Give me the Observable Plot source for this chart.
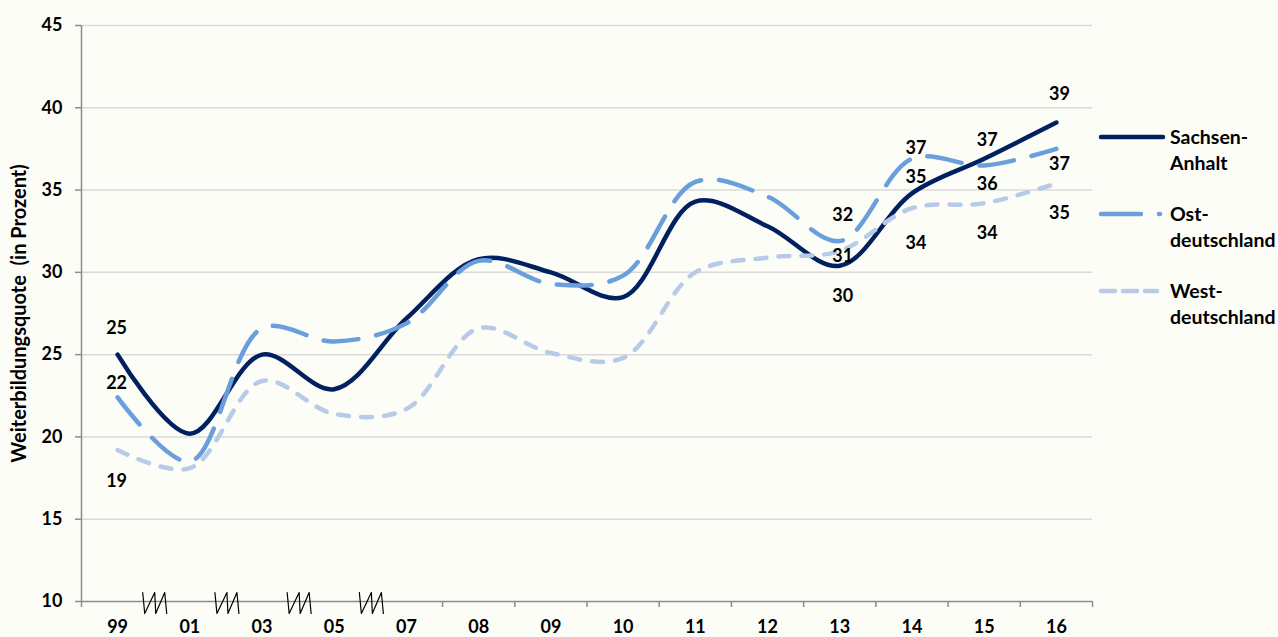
<!DOCTYPE html>
<html>
<head>
<meta charset="utf-8">
<script src="https://cdn.jsdelivr.net/npm/d3@7"></script>
<script src="https://cdn.jsdelivr.net/npm/@observablehq/plot@0.6"></script>
<style>
  html, body { margin: 0; padding: 0; background: #fdfdf8; }
  #wrap { position: relative; width: 1278px; height: 637px; overflow: hidden; background: #fdfdf8; }
  #wrap svg text { white-space: pre; }
  #legend { position: absolute; left: 0; top: 0; }
</style>
</head>
<body>
<div id="wrap"></div>
<script>
// ---- data ----
const years = ["99","01","03","05","07","08","09","10","11","12","13","14","15","16"];
const sachsenAnhalt   = [25.0, 20.2, 25.0, 22.9, 27.2, 30.8, 30.0, 28.5, 34.3, 32.8, 30.4, 34.8, 36.9, 39.1];
const ostdeutschland  = [22.4, 18.5, 26.6, 25.8, 26.9, 30.7, 29.3, 29.8, 35.5, 34.6, 31.9, 36.9, 36.5, 37.5];
const westdeutschland = [19.2, 18.1, 23.4, 21.4, 21.7, 26.6, 25.1, 24.8, 30.0, 30.9, 31.3, 33.9, 34.2, 35.4];
const labelYears = ["99","13","14","15","16"];
const saLabels   = [25, 30, 35, 37, 39];
const ostLabels  = [22, 32, 37, 36, 37];
const westLabels = [19, 31, 34, 34, 35];
const yTicks = [10, 15, 20, 25, 30, 35, 40, 45];
const breakYears = ["01","03","05","07"]; // axis break drawn before these years
const seriesNames = ["Sachsen-Anhalt", "Ost-deutschland", "West-deutschland"];
const yTitle = "Weiterbildungsquote  (in Prozent)";

// ---- layout / style ----
const W = 1278, H = 637, ML = 81, MR = 186, MT = 25, MB = 36;
const colors = ["#002060", "#6a9fdc", "#b7cbe8"];
const FONT = "Lato, 'Open Sans', sans-serif";
const pxPerX = (W - ML - MR) / years.length;
const pxPerY = (H - MT - MB) / 35;

const toRows = arr => arr.map((v, i) => ({i, v}));

// label offsets (pixels) for each series at each labelled year
const labelDy = [
  [-26, 30, -16, -19, -28],
  [-14, -26, -11, 19, 15],
  [31, 5, 35, 30, 30]
];
const labelDx = [-1, 3, 4, 3, 3];

// axis-break zigzag shape (pixel offsets)
const zig = [[-11,-9],[-9,12],[1,-9],[2,12],[11,-9],[13,12]];
const breakPts = [];
breakYears.forEach((yr, b) => {
  const bx = years.indexOf(yr) - 0.5;
  zig.forEach(([dx, dy]) => breakPts.push({b, x: bx + dx / pxPerX, y: 10 - dy / pxPerY}));
});

const labelMarks = [];
[saLabels, ostLabels, westLabels].forEach((labs, s) => {
  const vals = [sachsenAnhalt, ostdeutschland, westdeutschland][s];
  labs.forEach((lab, k) => {
    const i = years.indexOf(labelYears[k]);
    labelMarks.push(Plot.text([{i, v: vals[i], t: String(lab)}], {
      x: "i", y: "v", text: "t", dy: labelDy[s][k], dx: labelDx[k],
      fill: "#000", fontSize: 18, fontWeight: "bold"
    }));
  });
});

const boundaryTicks = d3.range(4.5, years.length, 1);

const chart = Plot.plot({
  width: W, height: H,
  marginLeft: ML, marginRight: MR, marginTop: MT, marginBottom: MB,
  x: {type: "linear", domain: [-0.5, years.length - 0.5], axis: null},
  y: {type: "linear", domain: [10, 45], axis: null},
  style: {background: "#fdfdf8", fontFamily: FONT, fontSize: "18px", fontWeight: "bold", color: "#000"},
  marks: [
    Plot.ruleY(yTicks.filter(t => t > 10), {stroke: "#d9d9d9", strokeWidth: 1.5}),
    Plot.axisY({ticks: yTicks, tickSize: 6, tickPadding: 13, stroke: "#8c8c8c", strokeWidth: 1.5, fill: "#000", fontSize: 18, fontWeight: "bold"}),
    Plot.ruleX([-0.5], {y1: 45, y2: 10, insetBottom: -6, stroke: "#8c8c8c", strokeWidth: 1.5}),
    Plot.ruleY([10], {stroke: "#8c8c8c", strokeWidth: 1.5}),
    Plot.axisX({ticks: boundaryTicks, tickSize: 6, tickFormat: () => "", stroke: "#8c8c8c", strokeWidth: 1.5}),
    Plot.axisX({ticks: d3.range(years.length), tickSize: 0, tickPadding: 19, tickFormat: i => years[i], fill: "#000", fontSize: 18, fontWeight: "bold"}),
    Plot.line(breakPts, {x: "x", y: "y", z: "b", stroke: "#000", strokeWidth: 1.2}),
    Plot.text([yTitle], {x: () => -0.5 - 62 / pxPerX, y: () => 27.5, rotate: -90, fill: "#000", fontSize: 20, fontWeight: "bold"}),
    Plot.line(toRows(sachsenAnhalt), {x: "i", y: "v", curve: "catmull-rom", stroke: colors[0], strokeWidth: 4.5, strokeLinecap: "round"}),
    Plot.line(toRows(ostdeutschland), {x: "i", y: "v", curve: "catmull-rom", stroke: colors[1], strokeWidth: 4.5, strokeLinecap: "round", strokeDasharray: "35,18"}),
    Plot.line(toRows(westdeutschland), {x: "i", y: "v", curve: "catmull-rom", stroke: colors[2], strokeWidth: 4.5, strokeLinecap: "round", strokeDasharray: "11,12"}),
    ...labelMarks
  ]
});

const wrap = document.getElementById("wrap");
wrap.appendChild(chart);

// ---- legend (right side) ----
const ns = "http://www.w3.org/2000/svg";
const leg = document.createElementNS(ns, "svg");
leg.setAttribute("id", "legend");
leg.setAttribute("width", W);
leg.setAttribute("height", H);
leg.style.pointerEvents = "none";
const legY = [137, 214, 291];
seriesNames.forEach((name, s) => {
  const ln = document.createElementNS(ns, "line");
  ln.setAttribute("x1", 1101); ln.setAttribute("x2", s === 1 ? 1160 : (s === 2 ? 1157 : 1163));
  ln.setAttribute("y1", legY[s]); ln.setAttribute("y2", legY[s]);
  ln.setAttribute("stroke", colors[s]); ln.setAttribute("stroke-width", 4.5);
  ln.setAttribute("stroke-linecap", "round");
  if (s === 1) ln.setAttribute("stroke-dasharray", "40,18");
  if (s === 2) ln.setAttribute("stroke-dasharray", "14,8");
  leg.appendChild(ln);
  const parts = name.split("-");
  const lines = [parts[0] + "-", parts[1]];
  lines.forEach((txt, k) => {
    const t = document.createElementNS(ns, "text");
    t.setAttribute("x", 1170);
    t.setAttribute("y", legY[s] + k * 26);
    t.setAttribute("dy", "0.35em");
    t.setAttribute("font-family", FONT);
    t.setAttribute("font-size", 19.5);
    t.setAttribute("font-weight", "bold");
    t.setAttribute("fill", "#000");
    t.textContent = txt;
    leg.appendChild(t);
  });
});
wrap.appendChild(leg);
</script>
</body>
</html>
